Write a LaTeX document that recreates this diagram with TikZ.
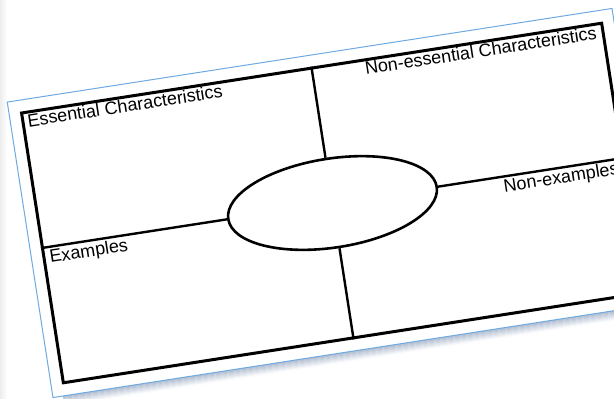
\documentclass[tikz,border=0pt]{standalone}
\usepackage{fontspec}
\setmainfont{Liberation Sans}
\usetikzlibrary{shapes.geometric}
\definecolor{sheetblue}{RGB}{110,170,225}
\definecolor{shadowblue}{RGB}{160,175,198}

\begin{document}
\begin{tikzpicture}[x=1pt,y=1pt]
        \tikzstyle{frame}=[draw,line width=3pt,minimum width=587pt,minimum height=273pt,inner sep=0pt]
        \tikzstyle{heading}=[font=\fontsize{18}{20}\selectfont,inner sep=0pt]
        \tikzstyle{divider}=[line width=2.4pt]
        \useasboundingbox (0,0) rectangle (614,-399);
        \clip (0,0) rectangle (614,-399);
        \fill[white] (0,0) rectangle (614,-399);
        \shade[left color=black!7,right color=white] (0,0) rectangle (7,-399);
        \begin{scope}[shift={(332.5,-203)},rotate=8.8,transform shape]
        \foreach \d [evaluate=\d as \c using 85-9*\d] in {0,...,9}
            \draw[line width=1.2pt,shadowblue!\c] (-296,-150-\d) -- (320,-150-\d);
        \node[draw=sheetblue,line width=1pt,fill=white,minimum width=612pt,minimum height=299pt] (sheet) at (0,0) {};
        \node[frame] (grid) at (0,0) {};
        \node[draw,ellipse,line width=2.6pt,minimum width=211pt,minimum height=89pt,inner sep=0pt] (word) at (0,0) {};
        \draw[divider] (word.north) -- (grid.north);
        \draw[divider] (word.south) -- (grid.south);
        \draw[divider] (word.west) -- (grid.west);
        \draw[divider] (word.east) -- (grid.east);
        \node[heading,anchor=base west] (ess) at (-289,121.5) {Essential Characteristics};
        \node[heading,anchor=base east] (noness) at (287,121.5) {Non-essential Characteristics};
        \node[heading,anchor=base west] (ex) at (-288,-16) {Examples};
        \node[heading,anchor=base east] (nonex) at (288,-15.5) {Non-examples};
        \end{scope}
    \end{tikzpicture}
\end{document}
